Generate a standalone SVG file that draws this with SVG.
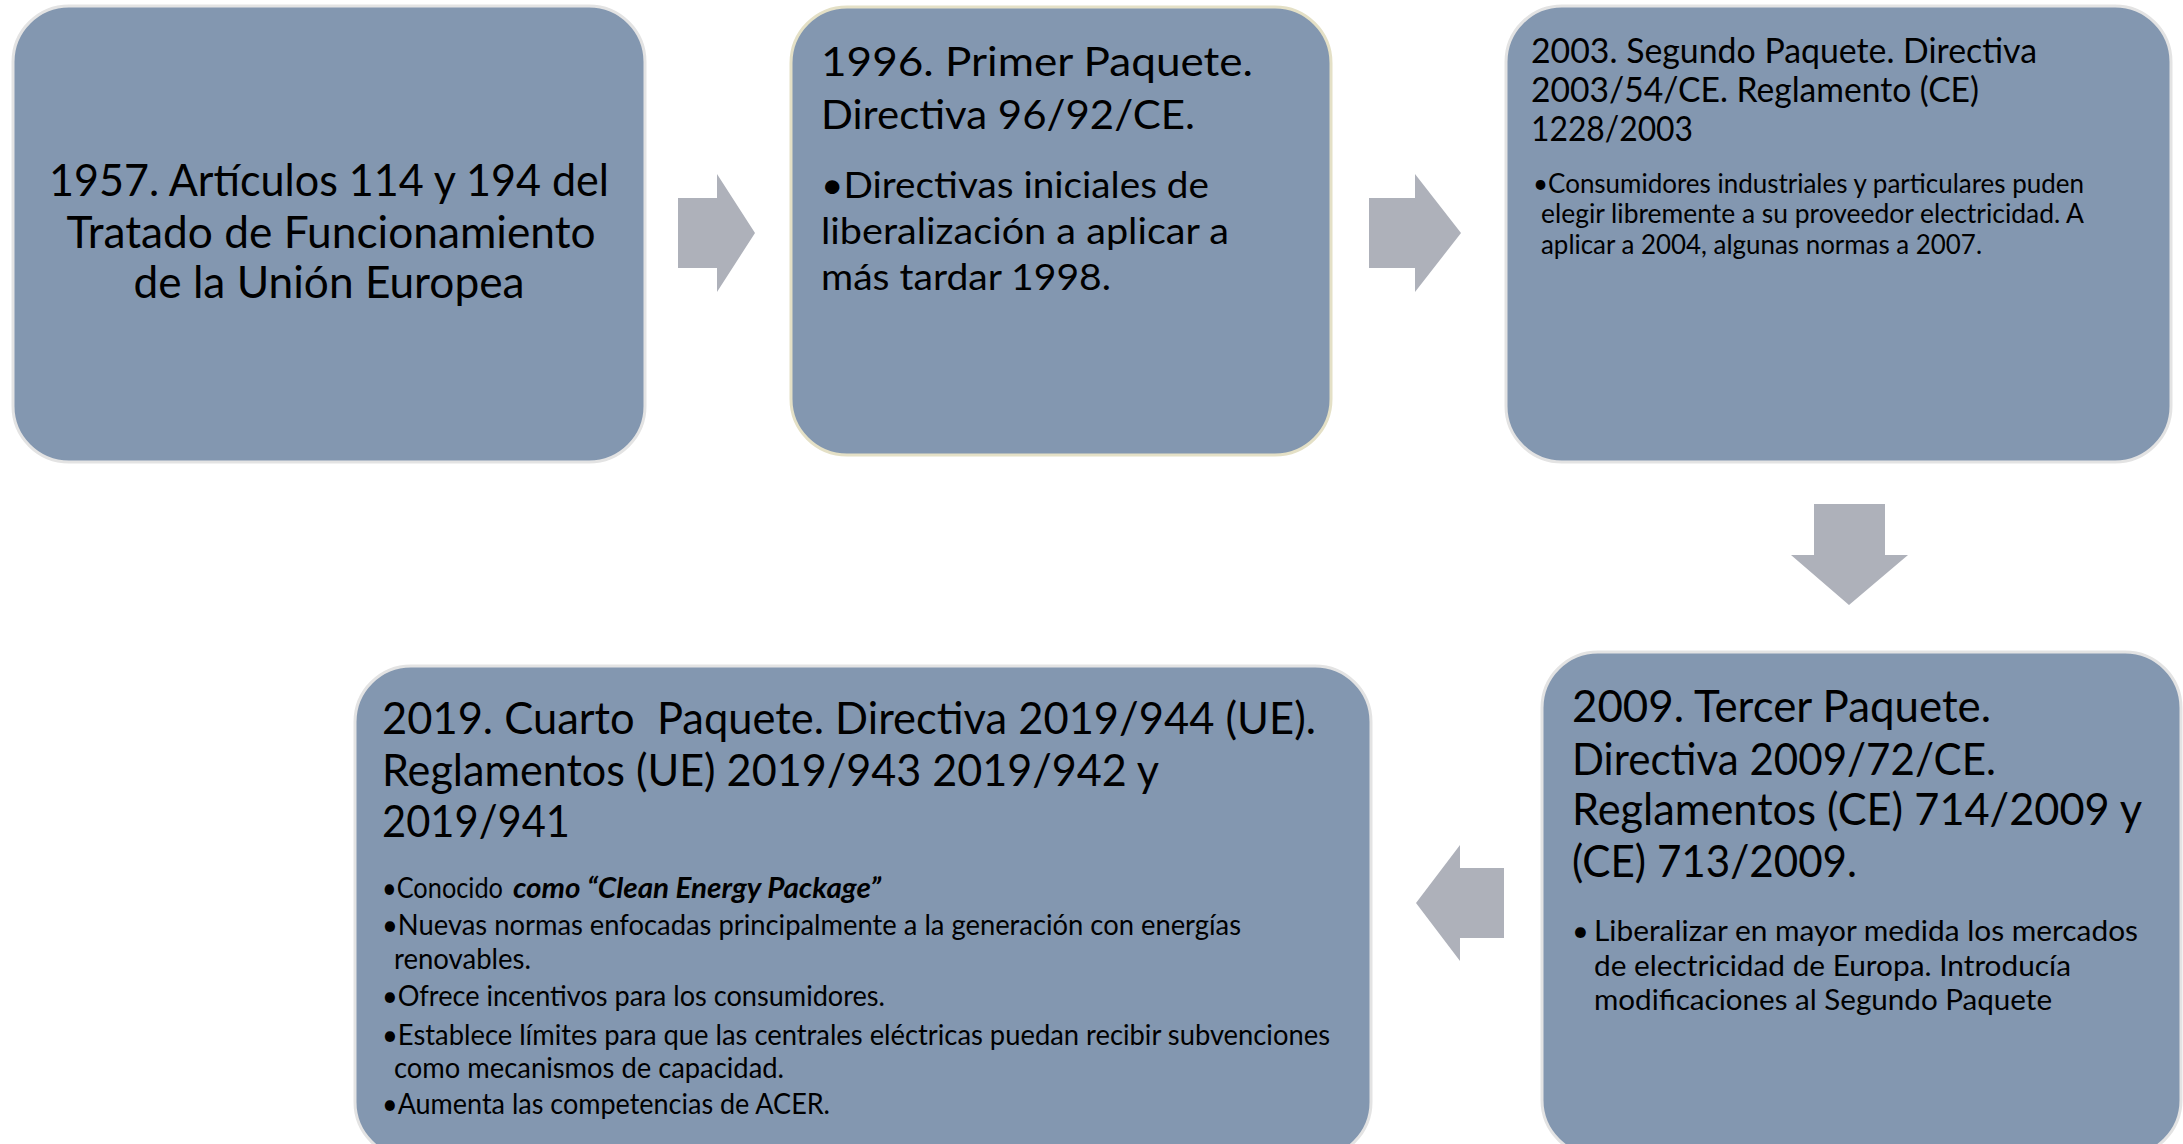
<svg xmlns="http://www.w3.org/2000/svg" width="2183" height="1144" viewBox="0 0 2183 1144">
<style>
.box{fill:#8397B0;stroke:#E3E3E3;stroke-width:3}
.box2{fill:#8397B0;stroke:#E4E0C6;stroke-width:3}
.arrow{fill:#AEB1BA}
text{font-family:Lato,'Liberation Sans',sans-serif;fill:#000}
.t1{font-size:44px}
.t2{font-size:41px}
.b2{font-size:36px}
.t3{font-size:35px}
.b3{font-size:26px}
.t4{font-size:44px}
.b4{font-size:29px}
.t5{font-size:44px}
.b5{font-size:29px}
.bi{font-weight:bold;font-style:italic}
</style>
<rect width="2183" height="1144" fill="#FFFFFF"/>
<g id="connectors">
<polygon class="arrow" points="678,198 717,198 717,174 755,233 717,292 717,268 678,268"/>
<polygon class="arrow" points="1369,198 1415,198 1415,174 1461,233 1415,292 1415,268 1369,268"/>
<polygon class="arrow" points="1814,504 1885,504 1885,555 1908,555 1849,605 1791,555 1814,555"/>
<polygon class="arrow" points="1504,868 1460,868 1460,845 1416,903 1460,961 1460,938 1504,938"/>
</g>
<g id="node1957">
<rect class="box" x="13" y="6" width="632" height="456" rx="56" ry="56"/>
<text class="t1" x="329" y="196" text-anchor="middle" textLength="560" lengthAdjust="spacingAndGlyphs">1957. Artículos 114 y 194 del</text>
<text class="t1" x="331" y="248" text-anchor="middle" textLength="529" lengthAdjust="spacingAndGlyphs">Tratado de Funcionamiento</text>
<text class="t1" x="329" y="298" text-anchor="middle" textLength="391" lengthAdjust="spacingAndGlyphs">de la Unión Europea</text>
</g>
<g id="node1996">
<rect class="box2" x="791" y="7" width="540" height="448" rx="56" ry="56"/>
<text class="t2" x="821" y="76" textLength="432" lengthAdjust="spacingAndGlyphs">1996. Primer Paquete.</text>
<text class="t2" x="821" y="129" textLength="374" lengthAdjust="spacingAndGlyphs">Directiva 96/92/CE.</text>
<text class="b2" x="821" y="198" textLength="388" lengthAdjust="spacingAndGlyphs">•Directivas iniciales de</text>
<text class="b2" x="821" y="244" textLength="408" lengthAdjust="spacingAndGlyphs">liberalización a aplicar a</text>
<text class="b2" x="821" y="290" textLength="290" lengthAdjust="spacingAndGlyphs">más tardar 1998.</text>
</g>
<g id="node2003">
<rect class="box" x="1506" y="6" width="665" height="456" rx="56" ry="56"/>
<text class="t3" x="1531" y="63" textLength="506" lengthAdjust="spacingAndGlyphs">2003. Segundo Paquete. Directiva</text>
<text class="t3" x="1531" y="102" textLength="448" lengthAdjust="spacingAndGlyphs">2003/54/CE. Reglamento (CE)</text>
<text class="t3" x="1531" y="141" textLength="162" lengthAdjust="spacingAndGlyphs">1228/2003</text>
<text class="b3" x="1533" y="193" textLength="551" lengthAdjust="spacingAndGlyphs">•Consumidores industriales y particulares puden</text>
<text class="b3" x="1541" y="223" textLength="543" lengthAdjust="spacingAndGlyphs">elegir libremente a su proveedor electricidad. A</text>
<text class="b3" x="1541" y="254" textLength="441" lengthAdjust="spacingAndGlyphs">aplicar a 2004, algunas normas a 2007.</text>
</g>
<g id="node2009">
<rect class="box" x="1542" y="652" width="639" height="504" rx="56" ry="56"/>
<text class="t4" x="1572" y="722" textLength="419" lengthAdjust="spacingAndGlyphs">2009. Tercer Paquete.</text>
<text class="t4" x="1572" y="775" textLength="424" lengthAdjust="spacingAndGlyphs">Directiva 2009/72/CE.</text>
<text class="t4" x="1572" y="825" textLength="570" lengthAdjust="spacingAndGlyphs">Reglamentos (CE) 714/2009 y</text>
<text class="t4" x="1572" y="877" textLength="285" lengthAdjust="spacingAndGlyphs">(CE) 713/2009.</text>
<text class="b4" x="1572" y="941">•</text>
<text class="b4" x="1594" y="941" textLength="544" lengthAdjust="spacingAndGlyphs">Liberalizar en mayor medida los mercados</text>
<text class="b4" x="1594" y="976" textLength="477" lengthAdjust="spacingAndGlyphs">de electricidad de Europa. Introducía</text>
<text class="b4" x="1594" y="1010" textLength="458" lengthAdjust="spacingAndGlyphs">modificaciones al Segundo Paquete</text>
</g>
<g id="node2019">
<rect class="box" x="355" y="666" width="1016" height="492" rx="56" ry="56"/>
<text class="t5" x="382" y="734" textLength="934" lengthAdjust="spacingAndGlyphs" style="white-space:pre">2019. Cuarto  Paquete. Directiva 2019/944 (UE).</text>
<text class="t5" x="382" y="786" textLength="777" lengthAdjust="spacingAndGlyphs">Reglamentos (UE) 2019/943 2019/942 y</text>
<text class="t5" x="382" y="837" textLength="188" lengthAdjust="spacingAndGlyphs">2019/941</text>
<text class="b5" x="382" y="898" textLength="121" lengthAdjust="spacingAndGlyphs">•Conocido</text>
<text class="b5 bi" x="513" y="898" textLength="368" lengthAdjust="spacingAndGlyphs">como “Clean Energy Package”</text>
<text class="b5" x="382" y="935" textLength="859" lengthAdjust="spacingAndGlyphs">•Nuevas normas enfocadas principalmente a la generación con energías</text>
<text class="b5" x="394" y="969" textLength="137" lengthAdjust="spacingAndGlyphs">renovables.</text>
<text class="b5" x="382" y="1006" textLength="503" lengthAdjust="spacingAndGlyphs">•Ofrece incentivos para los consumidores.</text>
<text class="b5" x="382" y="1045" textLength="948" lengthAdjust="spacingAndGlyphs">•Establece límites para que las centrales eléctricas puedan recibir subvenciones</text>
<text class="b5" x="394" y="1078" textLength="390" lengthAdjust="spacingAndGlyphs">como mecanismos de capacidad.</text>
<text class="b5" x="382" y="1114" textLength="448" lengthAdjust="spacingAndGlyphs">•Aumenta las competencias de ACER.</text>
</g>
</svg>
